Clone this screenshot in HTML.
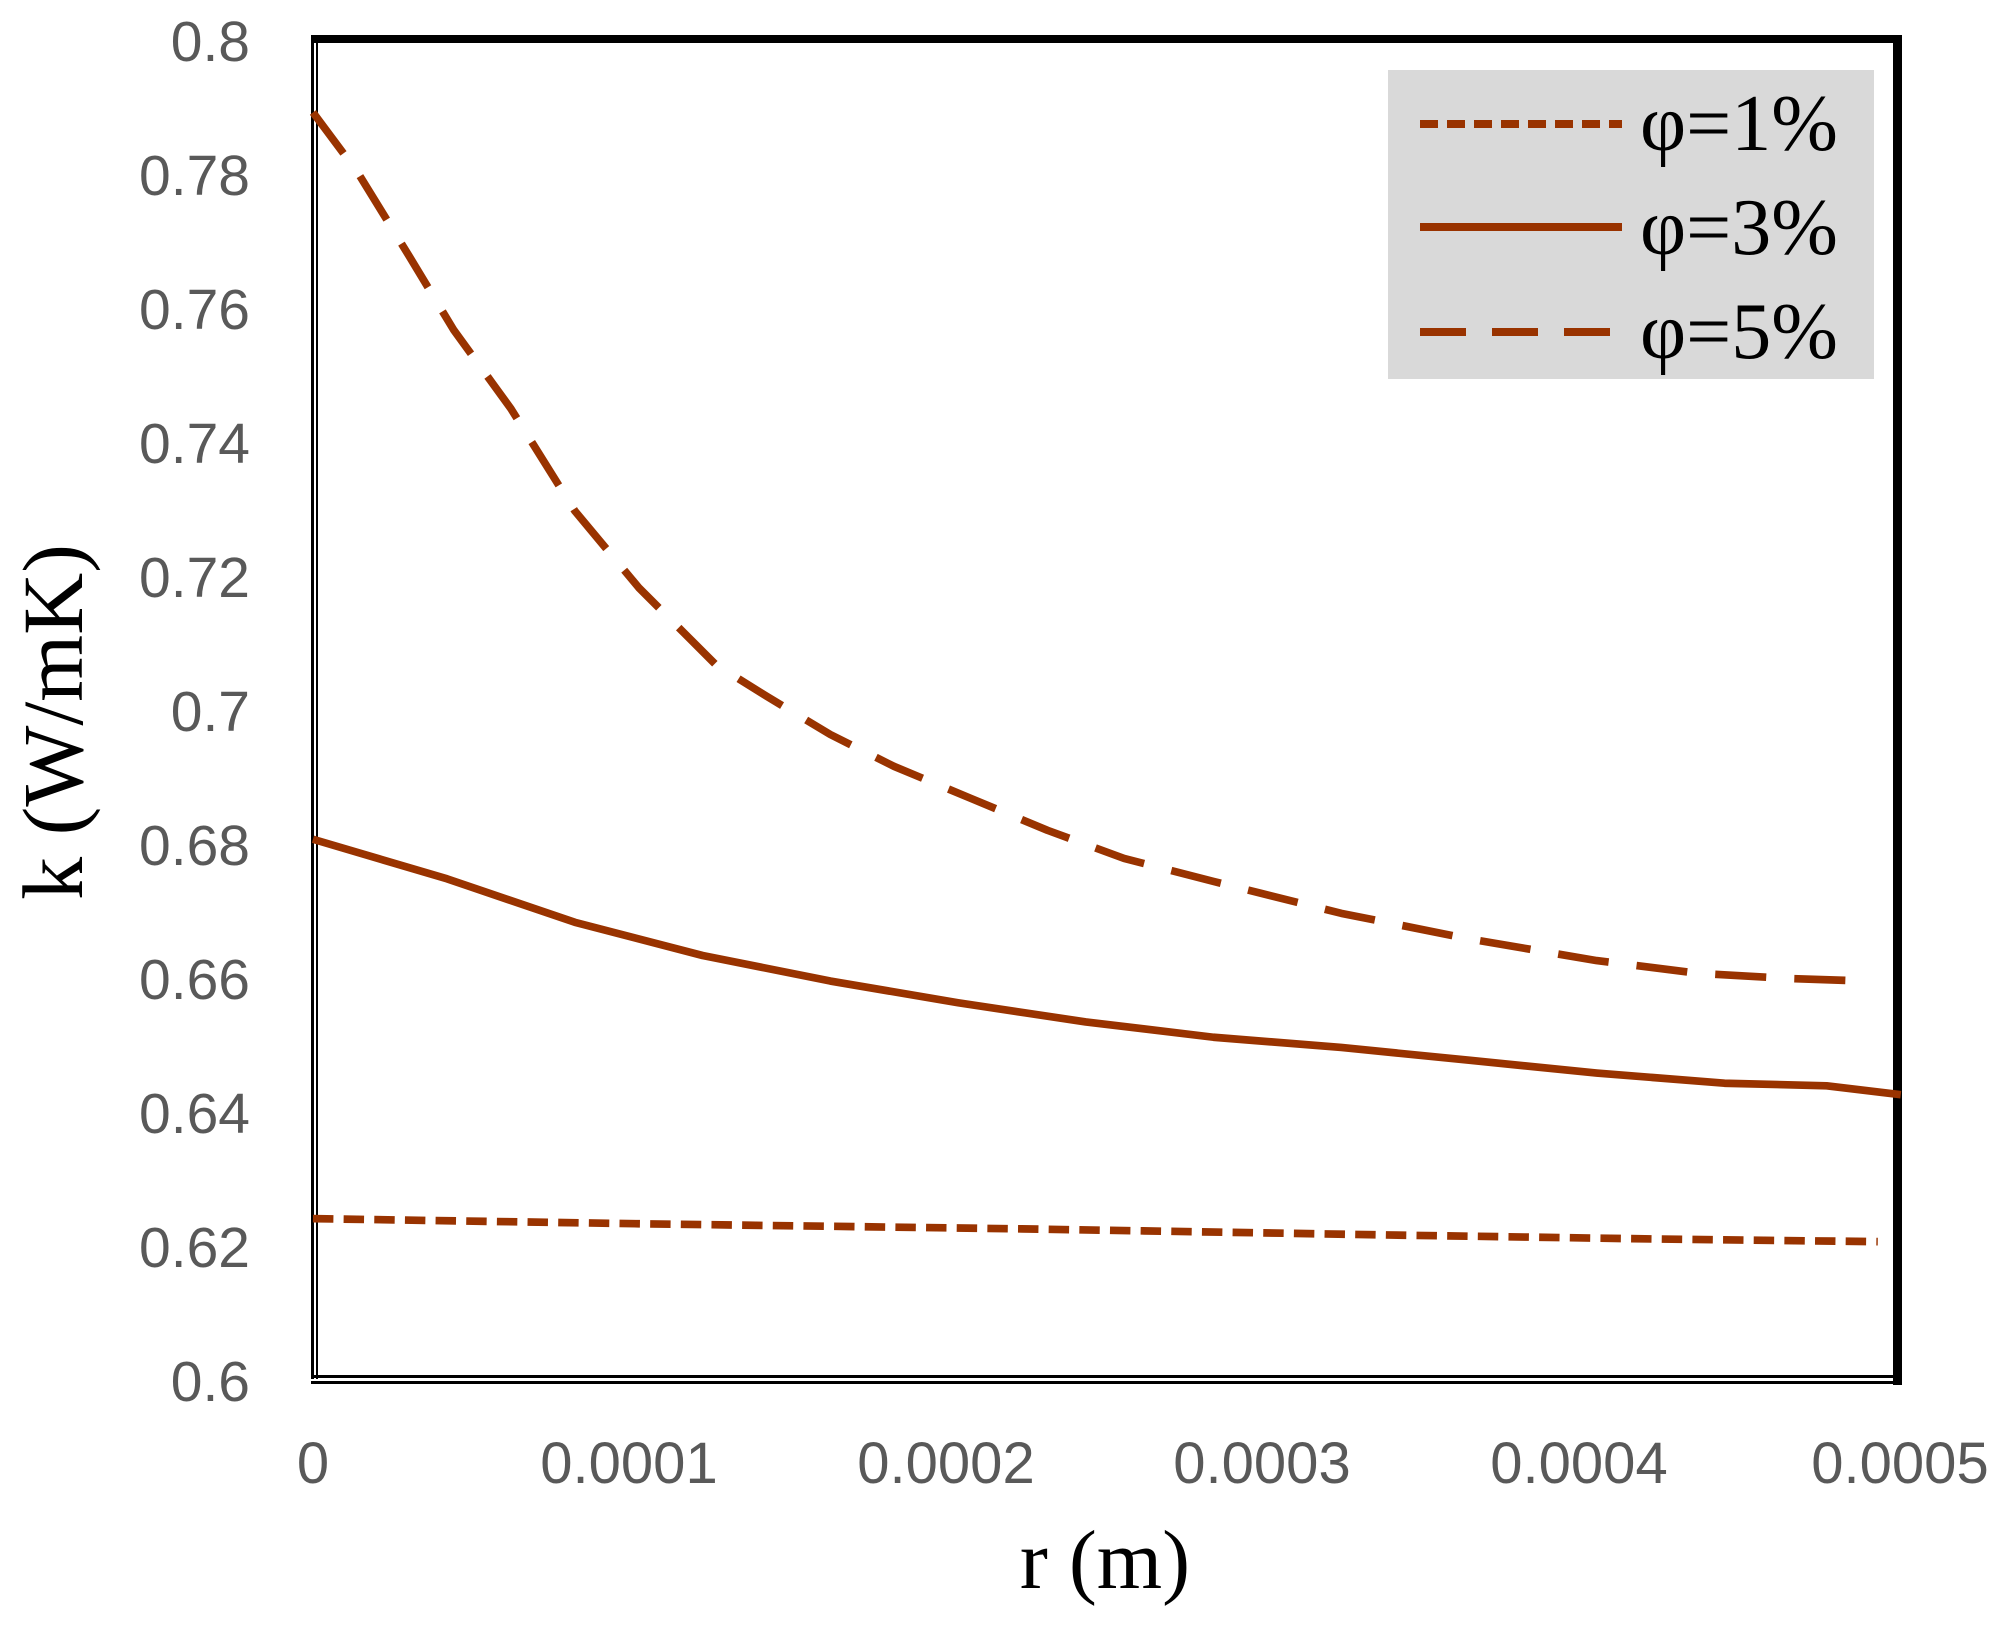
<!DOCTYPE html>
<html><head><meta charset="utf-8"><style>
html,body{margin:0;padding:0;background:#fff;}
svg{display:block;}
</style></head><body>
<svg width="2003" height="1625" xmlns="http://www.w3.org/2000/svg">
<rect width="2003" height="1625" fill="#fff"/>
<!-- frame -->
<rect x="311" y="36" width="3" height="1343" fill="#000"/>
<rect x="316" y="40" width="2" height="1339" fill="#000"/>
<rect x="311" y="1375" width="1591" height="3" fill="#000"/>
<rect x="311" y="1381" width="1591" height="3" fill="#000"/>
<rect x="311" y="35" width="1591" height="8" fill="#000"/>
<rect x="1893" y="35" width="9" height="1350" fill="#000"/>
<!-- y tick labels -->
<g font-family="Liberation Sans, sans-serif" font-size="57" fill="#595959" text-anchor="end">
<text x="250" y="61">0.8</text>
<text x="250" y="195">0.78</text>
<text x="250" y="329">0.76</text>
<text x="250" y="463">0.74</text>
<text x="250" y="597">0.72</text>
<text x="250" y="731">0.7</text>
<text x="250" y="865">0.68</text>
<text x="250" y="999">0.66</text>
<text x="250" y="1133">0.64</text>
<text x="250" y="1267">0.62</text>
<text x="250" y="1401">0.6</text>
</g>
<g font-family="Liberation Sans, sans-serif" font-size="58" fill="#595959" text-anchor="middle">
<text x="313" y="1483">0</text>
<text x="629" y="1483">0.0001</text>
<text x="946" y="1483">0.0002</text>
<text x="1262" y="1483">0.0003</text>
<text x="1579" y="1483">0.0004</text>
<text x="1900" y="1483">0.0005</text>
</g>
<text x="1105" y="1588" font-family="Liberation Serif, serif" font-size="84" text-anchor="middle">r (m)</text>
<text transform="translate(82,722) rotate(-90)" font-family="Liberation Serif, serif" font-size="86" text-anchor="middle">k (W/mK)</text>
<!-- legend -->
<rect x="1388" y="70" width="486" height="309" fill="#d9d9d9"/>
<g stroke="#993300" stroke-width="8" fill="none">
<line x1="1420" y1="124" x2="1622" y2="124" stroke-dasharray="18,9"/>
<line x1="1420" y1="227" x2="1622" y2="227"/>
<line x1="1420" y1="332" x2="1622" y2="332" stroke-dasharray="46,26"/>
</g>
<g font-family="Liberation Serif, serif" font-size="80" fill="#000">
<text x="1640" y="150">φ=1%</text>
<text x="1640" y="254">φ=3%</text>
<text x="1640" y="358">φ=5%</text>
</g>
<!-- series -->
<g transform="scale(1.2774)" fill="none" stroke="#993300" stroke-width="6" stroke-linejoin="round">
<polyline stroke-dasharray="40,22" points="245,88 280,135 320,200 355,258 400,320 450,400 500,460 560,520 600,545 650,575 700,600 760,625 820,650 880,672 950,690 1050,715 1150,735 1250,752 1330,762 1400,766 1460,768"/>
<polyline points="245,657 350,688 450,722 550,748 650,768 750,785 850,800 950,812 1050,820 1150,830 1250,840 1350,848 1430,850 1488,857"/>
<polyline stroke-dasharray="16,8" points="245,954 500,958 800,962 1100,967 1300,970 1470,972"/>
</g>
</svg>
</body></html>
